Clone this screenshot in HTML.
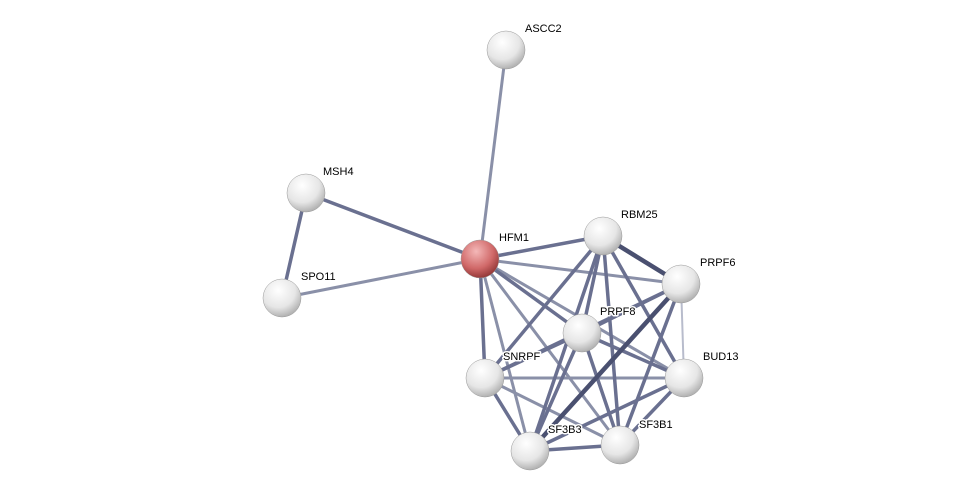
<!DOCTYPE html>
<html><head><meta charset="utf-8"><style>
html,body{margin:0;padding:0;background:#fff}
svg{display:block}
text{font-family:"Liberation Sans",sans-serif;font-size:11px;fill:#000;paint-order:stroke;stroke:#fff;stroke-width:3px;stroke-linejoin:round}
</style></head><body>
<svg width="975" height="495" viewBox="0 0 975 495" xmlns="http://www.w3.org/2000/svg">
<defs>
<radialGradient id="g" cx="0.4" cy="0.3" r="0.75">
<stop offset="0" stop-color="#ffffff"/><stop offset="0.6" stop-color="#e6e6e6"/><stop offset="1" stop-color="#a8a8a8"/>
</radialGradient>
<radialGradient id="r" cx="0.4" cy="0.3" r="0.75">
<stop offset="0" stop-color="#f4b8b8"/><stop offset="0.6" stop-color="#d06868"/><stop offset="1" stop-color="#8a3030"/>
</radialGradient>
</defs>
<g stroke-linecap="round">
<g stroke="#8a90a8" stroke-width="3">
<line x1="506" y1="50" x2="480" y2="259"/>
<line x1="282" y1="298" x2="480" y2="259"/>
<line x1="480" y1="259" x2="681" y2="284"/>
<line x1="480" y1="259" x2="684" y2="378"/>
<line x1="480" y1="259" x2="620" y2="445"/>
<line x1="480" y1="259" x2="530" y2="451"/>
<line x1="681" y1="284" x2="684" y2="378" stroke="#b8bccc" stroke-width="2"/>
<line x1="485" y1="378" x2="684" y2="378"/>
<line x1="485" y1="378" x2="620" y2="445"/>
</g>
<g stroke="#6a7090" stroke-width="3.5">
<line x1="306" y1="193" x2="480" y2="259"/>
<line x1="306" y1="193" x2="282" y2="298"/>
<line x1="480" y1="259" x2="603" y2="236"/>
<line x1="480" y1="259" x2="582" y2="333"/>
<line x1="480" y1="259" x2="485" y2="378"/>
<line x1="603" y1="236" x2="582" y2="333"/>
<line x1="603" y1="236" x2="684" y2="378"/>
<line x1="603" y1="236" x2="485" y2="378"/>
<line x1="603" y1="236" x2="530" y2="451"/>
<line x1="603" y1="236" x2="620" y2="445"/>
<line x1="681" y1="284" x2="582" y2="333"/>
<line x1="681" y1="284" x2="485" y2="378"/>
<line x1="681" y1="284" x2="620" y2="445"/>
<line x1="582" y1="333" x2="684" y2="378"/>
<line x1="582" y1="333" x2="485" y2="378"/>
<line x1="582" y1="333" x2="530" y2="451"/>
<line x1="582" y1="333" x2="620" y2="445"/>
<line x1="684" y1="378" x2="530" y2="451"/>
<line x1="684" y1="378" x2="620" y2="445"/>
<line x1="485" y1="378" x2="530" y2="451"/>
<line x1="530" y1="451" x2="620" y2="445"/>
</g>
<line x1="603" y1="236" x2="681" y2="284" stroke="#4a5070" stroke-width="4.5"/>
<line x1="681" y1="284" x2="530" y2="451" stroke="#4a5070" stroke-width="4.5"/>
</g>
<g stroke="#999" stroke-width="0.5">
<circle cx="506" cy="50" r="19" fill="url(#g)"/>
<circle cx="306" cy="193" r="19" fill="url(#g)"/>
<circle cx="282" cy="298" r="19" fill="url(#g)"/>
<circle cx="480" cy="259" r="19" fill="url(#r)"/>
<circle cx="603" cy="236" r="19" fill="url(#g)"/>
<circle cx="681" cy="284" r="19" fill="url(#g)"/>
<circle cx="582" cy="333" r="19" fill="url(#g)"/>
<circle cx="684" cy="378" r="19" fill="url(#g)"/>
<circle cx="485" cy="378" r="19" fill="url(#g)"/>
<circle cx="530" cy="451" r="19" fill="url(#g)"/>
<circle cx="620" cy="445" r="19" fill="url(#g)"/>
</g>
<text x="525" y="32">ASCC2</text>
<text x="323" y="175">MSH4</text>
<text x="301" y="280">SPO11</text>
<text x="499" y="241">HFM1</text>
<text x="621" y="218">RBM25</text>
<text x="700" y="266">PRPF6</text>
<text x="600" y="315">PRPF8</text>
<text x="703" y="360">BUD13</text>
<text x="503" y="360">SNRPF</text>
<text x="548" y="433">SF3B3</text>
<text x="639" y="428">SF3B1</text>
</svg>
</body></html>
